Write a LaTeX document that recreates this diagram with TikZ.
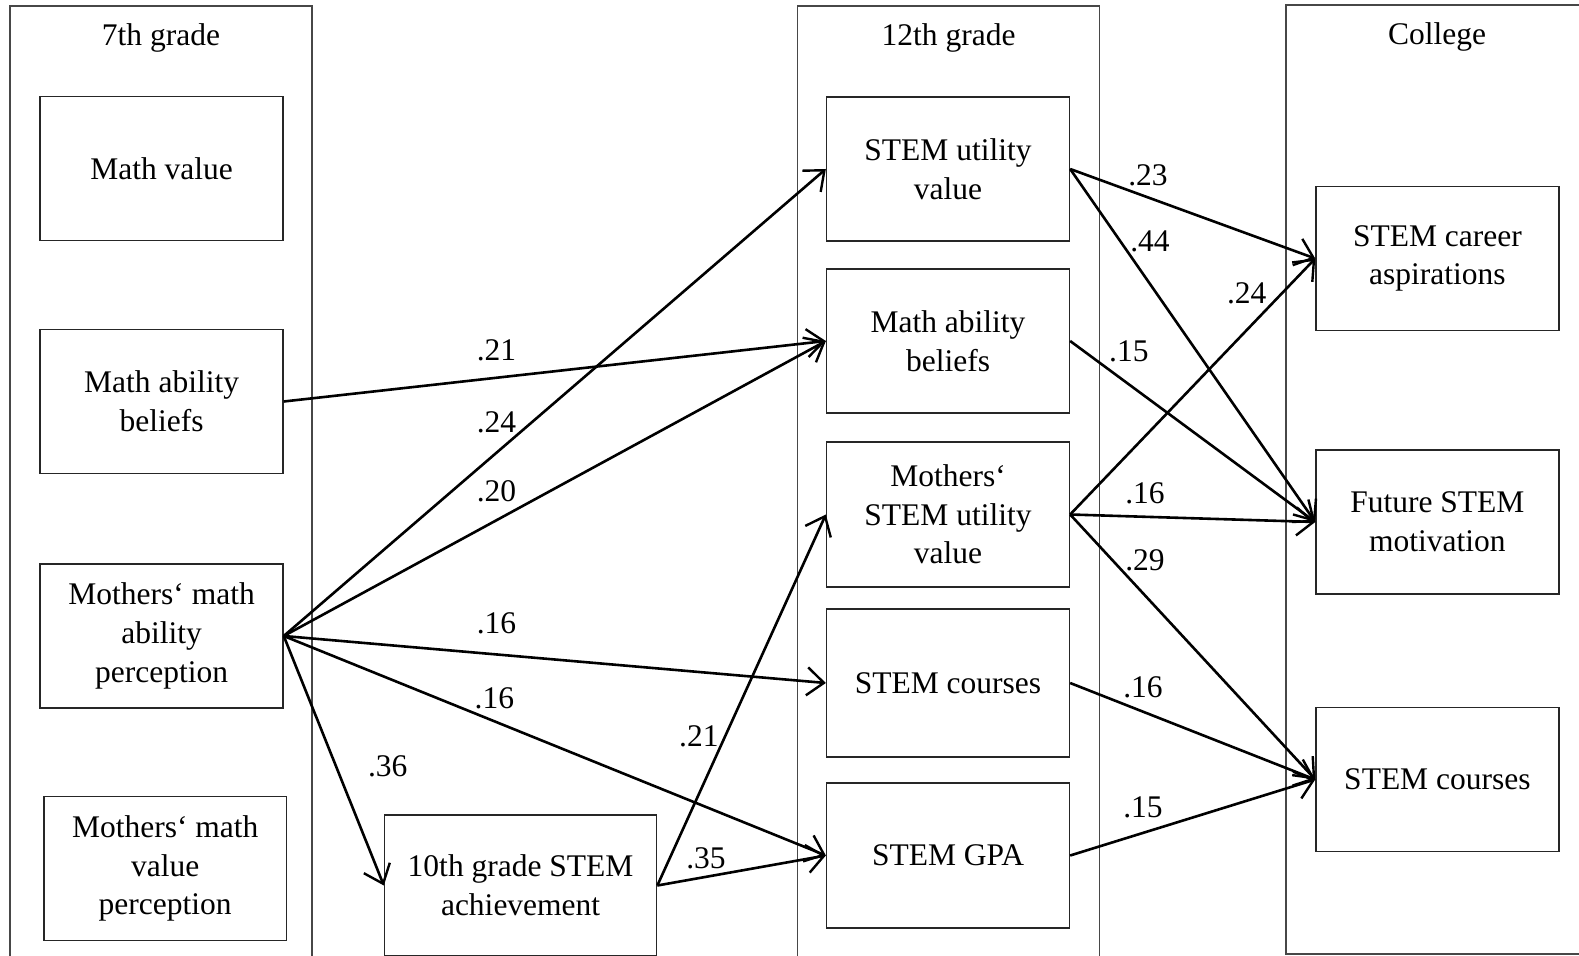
\documentclass[tikz,border=0pt]{standalone}
\usepackage{fontspec}
\setmainfont{Liberation Serif}
\usetikzlibrary{arrows.meta}
\begin{document}
\begin{tikzpicture}[x=0.5pt,y=-0.5pt,
  font=\fontsize{15.75}{19.3}\selectfont,
  panel/.style={draw=black!72, line width=0.75pt},
  var/.style={draw=black!85, line width=0.75pt, align=center, text=black,
    minimum width=121.4pt, minimum height=72pt, inner sep=2pt},
  path/.style={line width=1.3pt, black,
    -{Straight Barb[length=8.5pt,width=14pt,line width=1.2pt]}},
  coef/.style={inner sep=0pt, text=black},
  head/.style={inner sep=0pt, text=black}
]
\useasboundingbox (0,0) rectangle (1579,956);

% time panels
\draw[panel] (10,975) -- (10,6) -- (312,6) -- (312,975);
\draw[panel] (797.5,975) -- (797.5,6) -- (1099.6,6) -- (1099.6,975);
\draw[panel] (1590,954) -- (1286,954) -- (1286,5) -- (1590,5);

\node[head] (h7)  at (161,38)   {7th grade};
\node[head] (h12) at (948.6,38) {12th grade};
\node[head] (hc)  at (1437,37)  {College};

% 7th grade
\node[var] (mv7)   at (161.6,168.5) {Math value};
\node[var] (mab7)  at (161.6,401.5) {Math ability\\beliefs};
\node[var] (mmap)  at (161.6,636) {Mothers‘ math\\ability\\perception};
\node[var] (mmvp)  at (165.2,868.5) {Mothers‘ math\\value\\perception};

% 10th grade
\node[var, minimum width=136pt, minimum height=70.5pt] (ach10) at (520.6,885.5)
  {10th grade STEM\\achievement};

% 12th grade
\node[var] (suv)   at (948,169) {STEM utility\\value};
\node[var] (mab12) at (948,341) {Math ability\\beliefs};
\node[var, minimum height=72.5pt] (msuv)  at (948,514.5) {Mothers‘\\STEM utility\\value};
\node[var, minimum height=74pt] (sc12)  at (948,683) {STEM courses};
\node[var, minimum height=72.5pt] (gpa)   at (948,855.5) {STEM GPA};

% college
\node[var] (car)  at (1437.4,258.5) {STEM career\\aspirations};
\node[var] (fut)  at (1437.4,522) {Future STEM\\motivation};
\node[var] (scc)  at (1437.4,779.5) {STEM courses};

% paths into 12th grade
\draw[path] (mab7.east) -- (mab12.west);
\draw[path] (mmap.east) -- (suv.west);
\draw[path] (mmap.east) -- (mab12.west);
\draw[path] (mmap.east) -- (sc12.west);
\draw[path] (mmap.east) -- (gpa.west);
\draw[path] (mmap.east) -- (ach10.west);
\draw[path] (ach10.east) -- (msuv.west);
\draw[path] (ach10.east) -- (gpa.west);

% paths into college
\draw[path] (suv.east) -- (car.west);
\draw[path] (suv.east) -- (fut.west);
\draw[path] (mab12.east) -- (fut.west);
\draw[path] (msuv.east) -- (car.west);
\draw[path] (msuv.east) -- (fut.west);
\draw[path] (msuv.east) -- (scc.west);
\draw[path] (sc12.east) -- (scc.west);
\draw[path] (gpa.east) -- (scc.west);

% coefficients
\node[coef] (c1)  at (496.5,350.5) {.21};
\node[coef] (c2)  at (496.5,422)   {.24};
\node[coef] (c3)  at (496.5,491.5) {.20};
\node[coef] (c4)  at (496.5,623.5) {.16};
\node[coef] (c5)  at (494.4,698) {.16};
\node[coef] (c6)  at (387.7,766.5) {.36};
\node[coef] (c7)  at (698.9,736)   {.21};
\node[coef] (c8)  at (706,858)     {.35};
\node[coef] (c9)  at (1148,175.5)  {.23};
\node[coef] (c10) at (1150,241)  {.44};
\node[coef] (c11) at (1128.8,351.5) {.15};
\node[coef] (c12) at (1246.7,293)  {.24};
\node[coef] (c13) at (1145,493.5)  {.16};
\node[coef] (c14) at (1145,560)  {.29};
\node[coef] (c15) at (1143,687)  {.16};
\node[coef] (c16) at (1143,807.5)  {.15};
\end{tikzpicture}
\end{document}
